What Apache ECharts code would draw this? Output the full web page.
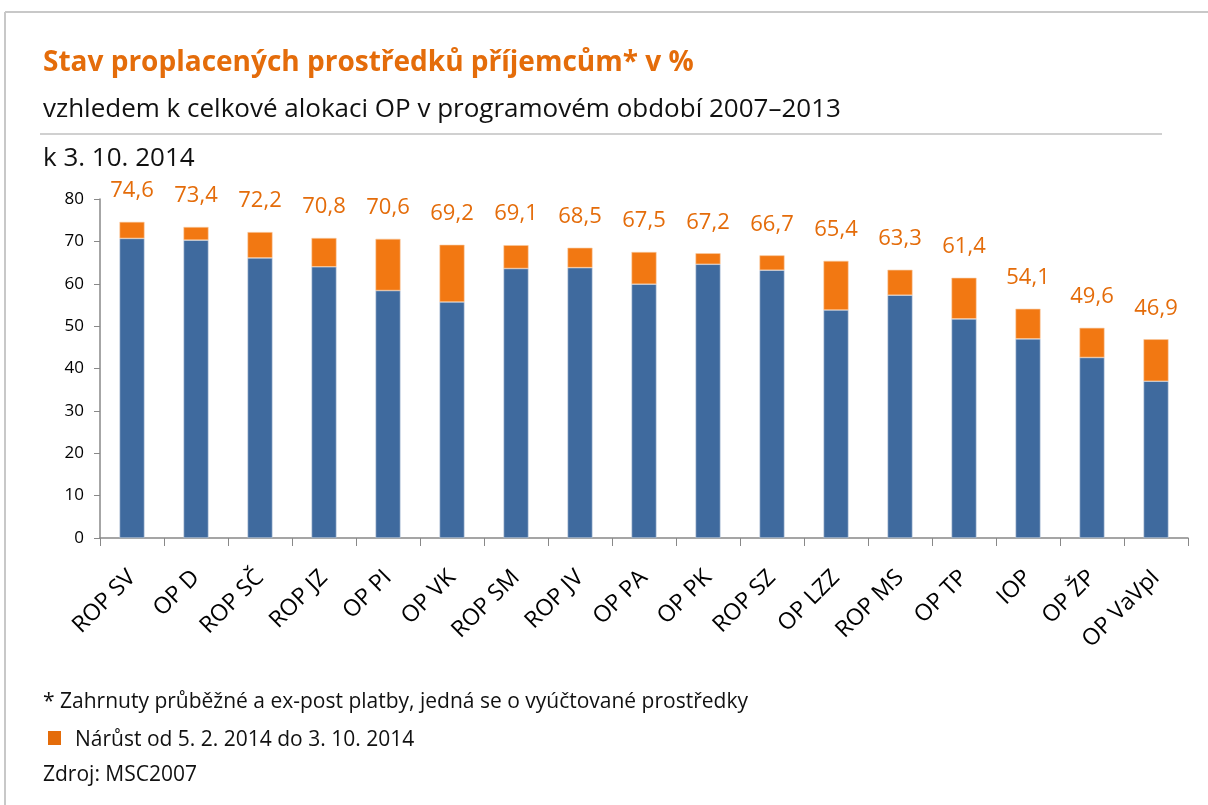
<!DOCTYPE html>
<html>
<head>
<meta charset="utf-8">
<script src="https://cdn.jsdelivr.net/npm/echarts@6/dist/echarts.min.js"></script>
<style>
  html, body { margin: 0; padding: 0; background: #fff; }
  #chart { width: 1208px; height: 805px; }
</style>
</head>
<body>
<div id="chart"></div>
<script>
// kategorie (operační programy)
const categories = ['ROP SV', 'OP D', 'ROP SČ', 'ROP JZ', 'OP PI', 'OP VK', 'ROP SM', 'ROP JV', 'OP PA',
  'OP PK', 'ROP SZ', 'OP LZZ', 'ROP MS', 'OP TP', 'IOP', 'OP ŽP', 'OP VaVpI']
// celkový stav k 3. 10. 2014 (popisky nad sloupci)
const totals = [74.6, 73.4, 72.2, 70.8, 70.6, 69.2, 69.1, 68.5, 67.5, 67.2, 66.7, 65.4, 63.3, 61.4, 54.1, 49.6, 46.9]
// stav k 5. 2. 2014 (modrá část)
const base = [70.7, 70.3, 66.1, 64.0, 58.4, 55.7, 63.6, 63.8, 59.9, 64.6, 63.2, 53.8, 57.3, 51.7, 47.0, 42.6, 37.0]
// nárůst (oranžová část)
const increase = totals.map((t, i) => Math.round((t - base[i]) * 10) / 10)
const yTicks = [0, 10, 20, 30, 40, 50, 60, 70, 80]

const FONT = '"Open Sans", "Noto Sans", sans-serif'
const ORANGE = '#E46C0A'

const chart = echarts.init(document.getElementById('chart'))
const option = {
  backgroundColor: '#fff',
  animation: false,
  textStyle: { fontFamily: FONT },
  grid: { left: 100, right: 20, top: 199, bottom: 267 },
  xAxis: {
    type: 'category',
    data: categories,
    axisLine: { lineStyle: { color: '#888', width: 1.5 } },
    axisTick: { show: true, length: 8, lineStyle: { color: '#888' } },
    axisLabel: {
      rotate: 45,
      interval: 0,
      margin: 36,
      color: '#000',
      fontSize: 23,
      fontFamily: FONT
    }
  },
  yAxis: {
    type: 'value',
    min: yTicks[0],
    max: yTicks[yTicks.length - 1],
    interval: 10,
    splitLine: { show: false },
    axisLine: { show: true, lineStyle: { color: '#888', width: 1.5 } },
    axisTick: { show: true, inside: false, length: 6, lineStyle: { color: '#888' } },
    axisLabel: { color: '#000', fontSize: 17, margin: 16, fontFamily: FONT }
  },
  series: [
    {
      name: 'Stav',
      type: 'bar',
      stack: 'total',
      barWidth: 25,
      itemStyle: { color: '#3F6A9E', borderColor: '#C9D3E3', borderWidth: 0.6 },
      data: base
    },
    {
      name: 'Nárůst',
      type: 'bar',
      stack: 'total',
      barWidth: 25,
      itemStyle: { color: '#F27812', borderColor: '#F9C9A0', borderWidth: 0.6 },
      label: {
        show: true,
        position: 'top',
        distance: 20,
        color: ORANGE,
        fontSize: 22,
        fontFamily: FONT,
        formatter: p => totals[p.dataIndex].toFixed(1).replace('.', ',')
      },
      data: increase
    }
  ],
  graphic: [
    // rámeček
    { type: 'line', shape: { x1: 5, y1: 12, x2: 1208, y2: 12 }, style: { stroke: '#C8C8C8', lineWidth: 2 } },
    { type: 'line', shape: { x1: 5, y1: 12, x2: 5, y2: 805 }, style: { stroke: '#C8C8C8', lineWidth: 2 } },
    { type: 'text', left: 43, top: 49, style: { text: 'Stav proplacených prostředků příjemcům* v %', fill: ORANGE, font: 'bold 28px ' + FONT } },
    { type: 'text', left: 43, top: 97, style: { text: 'vzhledem k celkové alokaci OP v programovém období 2007–2013', fill: '#111', font: '26px ' + FONT } },
    { type: 'line', shape: { x1: 40, y1: 134, x2: 1162, y2: 134 }, style: { stroke: '#D0D0D0', lineWidth: 2 } },
    { type: 'text', left: 43, top: 146, style: { text: 'k 3. 10. 2014', fill: '#111', font: '26px ' + FONT } },
    { type: 'text', left: 43, top: 692, style: { text: '* Zahrnuty průběžné a ex-post platby, jedná se o vyúčtované prostředky', fill: '#111', font: '21px ' + FONT } },
    { type: 'rect', shape: { x: 48, y: 731, width: 13, height: 14 }, style: { fill: ORANGE } },
    { type: 'text', left: 75, top: 730, style: { text: 'Nárůst od 5. 2. 2014 do 3. 10. 2014', fill: '#111', font: '21px ' + FONT } },
    { type: 'text', left: 43, top: 765, style: { text: 'Zdroj: MSC2007', fill: '#111', font: '21px ' + FONT } }
  ]
}
chart.setOption(option)
</script>
</body>
</html>
